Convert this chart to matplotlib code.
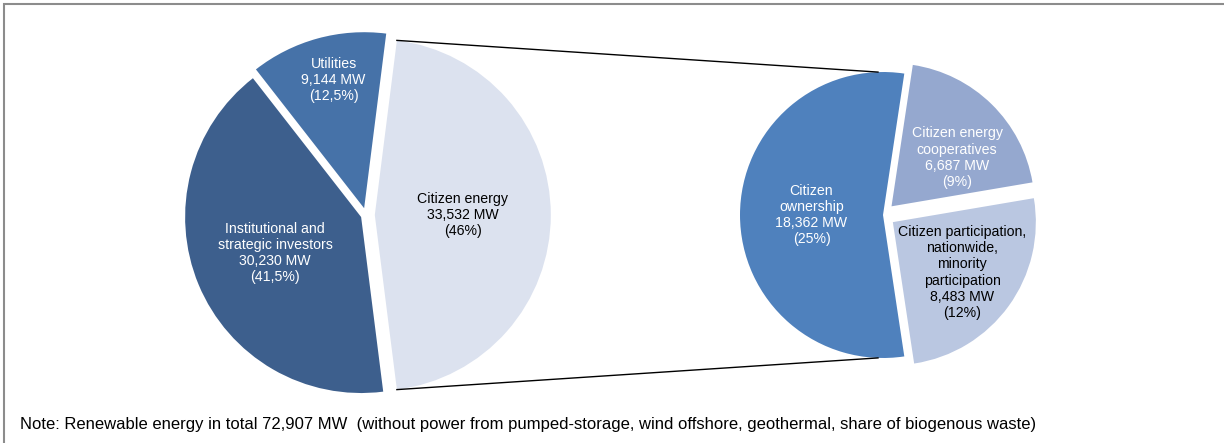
import numpy as np
import matplotlib.pyplot as plt
from matplotlib.patches import Rectangle

plt.rcParams['font.family'] = ['Liberation Sans', 'DejaVu Sans']

# main pie: total renewable capacity by owner group (MW)
main_labels = ["Citizen energy", "Utilities", "Institutional and\nstrategic investors"]
main_mw = [33532, 9144, 30230]
main_pct = ["46%", "12,5%", "41,5%"]
main_colors = ["#dce2ef", "#4672a8", "#3d5f8d"]
main_text = ["black", "white", "white"]

# secondary pie: breakdown of citizen energy (MW)
sub_labels = ["Citizen\nownership", "Citizen participation,\nnationwide,\nminority\nparticipation",
              "Citizen energy\ncooperatives"]
sub_mw = [18362, 8483, 6687]
sub_pct = ["25%", "12%", "9%"]
sub_colors = ["#4f81bd", "#bac7e1", "#95a8cf"]
sub_text = ["white", "black", "white"]

note = ("Note: Renewable energy in total 72,907 MW  (without power from pumped-storage, "
        "wind offshore, geothermal, share of biogenous waste)")

W, H = 1224, 443
fig = plt.figure(figsize=(W / 100, H / 100), dpi=100)
ax = fig.add_axes([0, 0, 1, 1])


def fmt(n):
    return f"{n:,}"


def draw_pie(vals, colors, start, center, radius, explode, labels, pcts, tcolors,
             dists, turns):
    # explode given as fraction of radius, pie wants absolute units
    wedges, _ = ax.pie(vals, colors=colors, startangle=start, counterclock=True,
                       center=center, radius=radius,
                       explode=[e * radius for e in explode],
                       wedgeprops=dict(linewidth=0))
    for w, lab, v, p, tc, d, t in zip(wedges, labels, vals, pcts, tcolors, dists, turns):
        mid = np.deg2rad((w.theta1 + w.theta2) / 2 + t)
        x = w.center[0] + d * w.r * np.cos(mid)
        y = w.center[1] + d * w.r * np.sin(mid)
        ax.text(x, y, f"{lab}\n{fmt(v)} MW\n({p})", ha="center", va="center",
                color=tc, fontsize=10.2, linespacing=1.2)
    return wedges


# left pie: citizen energy wedge centred on the right
main_start = -180 * main_mw[0] / sum(main_mw)
lw = draw_pie(main_mw, main_colors, main_start, (366, 228), 176, [0.05, 0.04, 0.03],
              main_labels, main_pct, main_text, [0.5, 0.75, 0.53], [0, -2, 0])

# right pie: ownership wedge centred on the left
sub_start = 180 - 180 * sub_mw[0] / sum(sub_mw)
rw = draw_pie(sub_mw, sub_colors, sub_start, (883, 228), 143, [0, 0.085, 0.085],
              sub_labels, sub_pct, sub_text, [0.5, 0.6, 0.57], [0, 0, -9])

# connector lines
cw = lw[0]
ow = rw[0]
for a_left, a_right in [(cw.theta2, 92), (cw.theta1, 268)]:
    xl = cw.center[0] + cw.r * np.cos(np.deg2rad(a_left))
    yl = cw.center[1] + cw.r * np.sin(np.deg2rad(a_left))
    xr = ow.center[0] + ow.r * np.cos(np.deg2rad(a_right))
    yr = ow.center[1] + ow.r * np.sin(np.deg2rad(a_right))
    ax.plot([xl, xr], [yl, yr], color="black", lw=1)

ax.text(20, 18, note, fontsize=12, ha="left", va="center")

ax.add_patch(Rectangle((3.5, -10), W + 20, H - 4 + 10, fill=False, ec="#8c8c8c", lw=1.5))

ax.set_xlim(0, W)
ax.set_ylim(0, H)
ax.set_aspect("auto")
ax.axis("off")

fig.savefig("out.png", dpi=100)
